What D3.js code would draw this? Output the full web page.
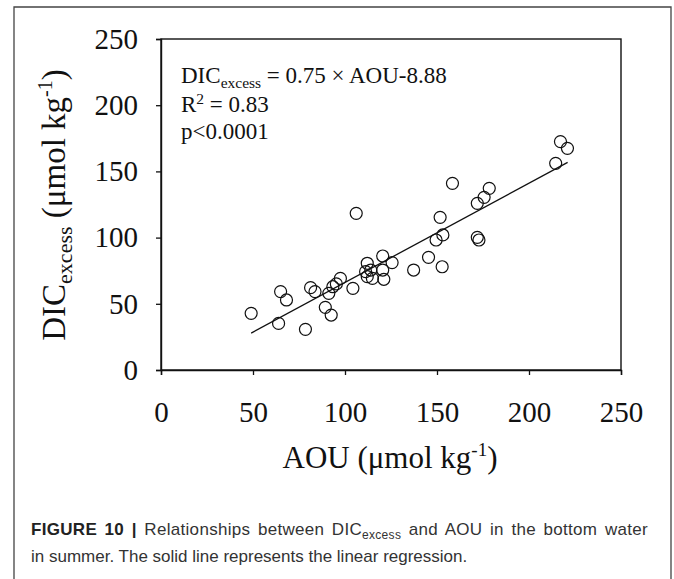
<!DOCTYPE html>
<html><head><meta charset="utf-8">
<script src="https://cdn.jsdelivr.net/npm/d3@7"></script>
<style>body{margin:0;background:#fff}</style>
</head><body>
<svg id="c" width="674" height="579"></svg>
<script>
// AOU (x) and DIC_excess (y)
const aou = [49.0, 63.9, 65.0, 68.2, 78.5, 81.3, 83.7, 89.3, 91.2, 92.5, 93.4, 95.3, 97.5, 104.3, 106.1,
             112.1, 111.2, 112.1, 114.9, 114.0, 120.5, 120.5, 121.1, 125.6, 137.3, 145.4, 149.5, 151.7,
             153.2, 152.8, 158.4, 171.9, 171.9, 172.8, 175.6, 178.4, 214.5, 217.1, 220.9];
const dicExcess = [42.8, 35.2, 59.2, 52.9, 30.7, 62.2, 59.2, 47.3, 57.9, 41.5, 62.9, 65.0, 69.2, 61.7, 118.3,
             80.6, 74.3, 70.5, 69.2, 75.5, 86.1, 75.5, 68.5, 81.1, 75.5, 85.1, 98.2, 115.3,
             102.0, 78.0, 141.0, 125.9, 100.2, 98.2, 130.4, 137.2, 156.1, 172.5, 167.4];
const xTicks = [0, 50, 100, 150, 200, 250];
const yTicks = [0, 50, 100, 150, 200, 250];
const slope = 0.75, intercept = -8.88;
const fitRange = [49, 221];

const svg = d3.select("#c");
const serif = "'Liberation Serif','Times New Roman',serif";
const sans = "'Liberation Sans',Arial,sans-serif";

// outer figure frame (open at bottom)
svg.append("path").attr("d", "M14,579 L14,7 L671,7 L671,579")
  .attr("fill", "none").attr("stroke", "#444").attr("stroke-width", 1.3);

const L = 161, R = 621, T = 39, B = 370;
const x = d3.scaleLinear().domain([0, 250]).range([L, R]);
const y = d3.scaleLinear().domain([0, 250]).range([B, T]);

// plot box
svg.append("rect").attr("x", L).attr("y", T).attr("width", R - L).attr("height", B - T)
  .attr("fill", "none").attr("stroke", "#111").attr("stroke-width", 1.4);

const xa = svg.append("g").attr("transform", `translate(0,${B})`)
  .call(d3.axisBottom(x).tickValues(xTicks).tickSize(5).tickPadding(26).tickFormat(d3.format("d")));
const ya = svg.append("g").attr("transform", `translate(${L},0)`)
  .call(d3.axisLeft(y).tickValues(yTicks).tickSize(5).tickPadding(18).tickFormat(d3.format("d")));
[xa, ya].forEach(g => {
  g.select(".domain").attr("stroke", "#111").attr("stroke-width", 1.4);
  g.selectAll(".tick line").attr("stroke", "#111").attr("stroke-width", 1.3);
  g.selectAll("text").attr("font-family", serif).attr("font-size", 29).attr("fill", "#111");
});

// regression line
svg.append("line")
  .attr("x1", x(fitRange[0])).attr("y1", y(slope * fitRange[0] + intercept))
  .attr("x2", x(fitRange[1])).attr("y2", y(slope * fitRange[1] + intercept))
  .attr("stroke", "#111").attr("stroke-width", 1.3);

// points
svg.append("g").selectAll("circle").data(aou).join("circle")
  .attr("cx", d => x(d)).attr("cy", (d, i) => y(dicExcess[i])).attr("r", 6)
  .attr("fill", "none").attr("stroke", "#111").attr("stroke-width", 1.2);

// annotation
const ann = svg.append("g").attr("font-family", serif).attr("font-size", 23).attr("fill", "#111");
const t1 = ann.append("text").attr("x", 181).attr("y", 83);
t1.append("tspan").text("DIC");
t1.append("tspan").attr("font-size", 15.5).attr("dy", 5).text("excess");
t1.append("tspan").attr("dy", -5).text(" = 0.75 \u00d7 AOU-8.88");
const t2 = ann.append("text").attr("x", 181).attr("y", 112);
t2.append("tspan").text("R");
t2.append("tspan").attr("font-size", 15.5).attr("dy", -8).text("2");
t2.append("tspan").attr("dy", 8).text(" = 0.83");
ann.append("text").attr("x", 181).attr("y", 139).text("p<0.0001");

// axis titles
const xt = svg.append("text").attr("x", 390).attr("y", 468).attr("text-anchor", "middle")
  .attr("font-family", serif).attr("font-size", 31).attr("fill", "#111");
xt.append("tspan").text("AOU (\u03bcmol kg");
xt.append("tspan").attr("font-size", 19).attr("dy", -12).text("-1");
xt.append("tspan").attr("dy", 12).text(")");

const yt = svg.append("text").attr("transform", "translate(65,205) rotate(-90)").attr("text-anchor", "middle")
  .attr("font-family", serif).attr("font-size", 33).attr("fill", "#111");
yt.append("tspan").text("DIC");
yt.append("tspan").attr("font-size", 22).attr("dy", 7).text("excess");
yt.append("tspan").attr("dy", -7).text(" (\u03bcmol kg");
yt.append("tspan").attr("font-size", 20).attr("dy", -13).text("-1");
yt.append("tspan").attr("dy", 13).text(")");

// caption (first line justified to column width)
const cap = svg.append("g").attr("font-family", sans).attr("fill", "#333");
const c1 = cap.append("text").attr("x", 31).attr("y", 535).attr("font-size", 17).attr("letter-spacing", 0.3);
c1.append("tspan").attr("font-weight", "bold").attr("fill", "#222").text("FIGURE 10 | ");
c1.append("tspan").text("Relationships between DIC");
c1.append("tspan").attr("font-size", 12).attr("dy", 4).text("excess");
c1.append("tspan").attr("dy", -4).text(" and AOU in the bottom water");
cap.append("text").attr("x", 31).attr("y", 562).attr("font-size", 17)
  .text("in summer. The solid line represents the linear regression.");
const w = c1.node().getComputedTextLength();
const nSpaces = 11;
c1.attr("word-spacing", Math.max(0, (617 - w) / nSpaces));
</script>
</body></html>
